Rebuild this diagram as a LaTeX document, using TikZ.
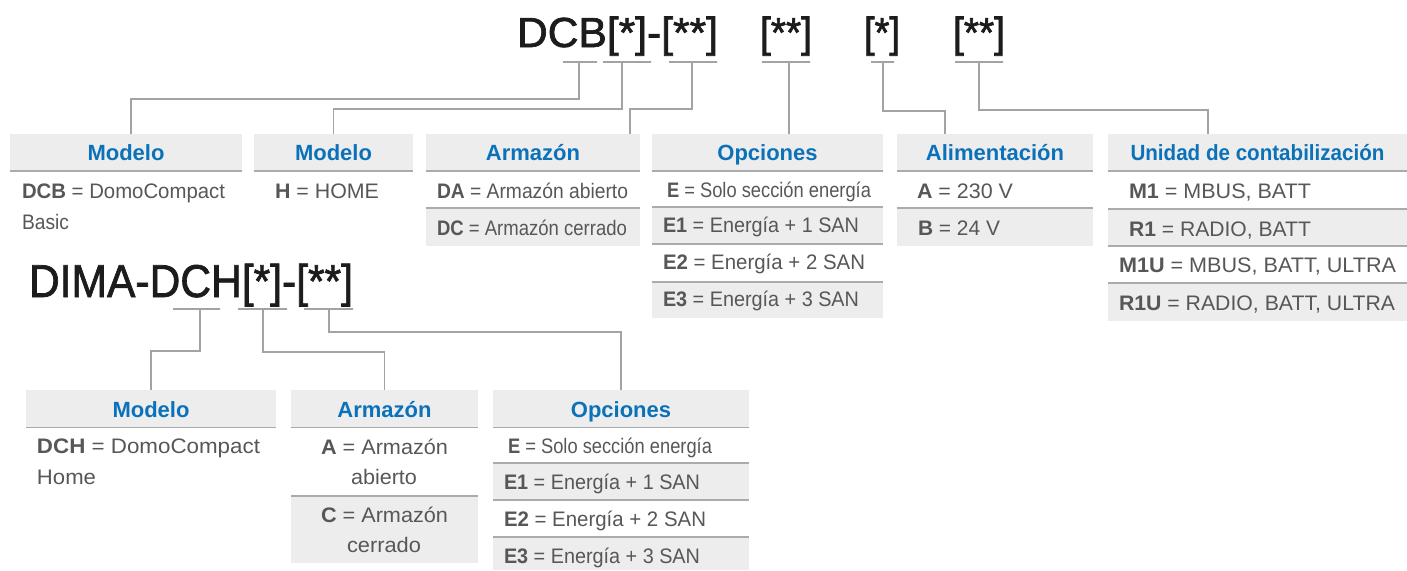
\documentclass[tikz,border=0pt]{standalone}
\usepackage{fontspec}
\setmainfont{Liberation Sans}
\newfontfamily\ttlfont[FakeBold=1.6]{Liberation Sans}
\usepackage{graphicx}
\definecolor{hgray}{HTML}{EDEDED}
\definecolor{sepc}{HTML}{ABABAB}
\definecolor{connc}{HTML}{A3A3A3}
\definecolor{txtc}{HTML}{575757}
\definecolor{hblue}{HTML}{0B72BA}
\definecolor{titlec}{HTML}{1C1C1C}
\newcommand\fitto[2]{\resizebox{#1pt}{\height}{#2}}
\begin{document}
\begin{tikzpicture}[x=1pt,y=-1pt,
 hdr/.style={fill=hgray, draw=none, anchor=north west, inner sep=0pt, outer sep=0pt,
   text height=27pt, text depth=10.5pt, font=\fontsize{22}{26}\selectfont\bfseries, text=hblue},
 rowbox/.style={anchor=north west, inner sep=0pt, outer sep=0pt, draw=none},
 rowg/.style={rowbox, fill=hgray},
 sepline/.style={draw=sepc, line width=1.2pt},
 conn/.style={draw=connc, line width=1.1pt},
 uline/.style={draw=connc, line width=1.1pt, inner sep=0pt, outer sep=0pt, minimum height=0pt},
 txt/.style={anchor=base west, inner sep=0pt, outer sep=0pt, text=txtc, font=\fontsize{21}{25}\selectfont},
 txtc/.style={txt, anchor=base},
 ttl/.style={anchor=base west, inner sep=0pt, outer sep=0pt, text=titlec}
]
\useasboundingbox (0,0) rectangle (1407,570);

% ---------- titles ----------
\node[ttl, font=\ttlfont\fontsize{42}{46}\selectfont] (T1) at (517,47) {\fitto{201}{DCB[*]-[**]}};
\node[ttl, font=\ttlfont\fontsize{42}{46}\selectfont] (T2) at (760,47) {\fitto{52}{[**]}};
\node[ttl, font=\ttlfont\fontsize{42}{46}\selectfont] (T3) at (864,47) {\fitto{36}{[*]}};
\node[ttl, font=\ttlfont\fontsize{42}{46}\selectfont] (T4) at (953,47) {\fitto{52}{[**]}};
\node[ttl, font=\ttlfont\fontsize{46}{50}\selectfont] (T5) at (29,297) {\fitto{324}{DIMA-DCH[*]-[**]}};

% ---------- underlines ----------
\node[uline, minimum width=34] (u1) at (580,62) {};
\node[uline, minimum width=48] (u2) at (627,62) {};
\node[uline, minimum width=48] (u3) at (693,62) {};
\node[uline, minimum width=48] (u4) at (786,62) {};
\node[uline, minimum width=23] (u5) at (882.5,62) {};
\node[uline, minimum width=48] (u6) at (979,62) {};
\node[uline, minimum width=47] (u7) at (196.5,309) {};
\node[uline, minimum width=49] (u8) at (262.5,309) {};
\node[uline, minimum width=49] (u9) at (328.5,309) {};

% ---------- top headers ----------
\node[hdr, minimum width=232] (h1) at (10,133.5) {Modelo};
\node[hdr, minimum width=159] (h2) at (254,133.5) {Modelo};
\node[hdr, minimum width=214] (h3) at (426,133.5) {Armazón};
\node[hdr, minimum width=231] (h4) at (652,133.5) {Opciones};
\node[hdr, minimum width=196] (h5) at (897,133.5) {Alimentación};
\node[hdr, minimum width=299] (h6) at (1108,133.5) {\fitto{254}{Unidad de contabilización}};

% ---------- bottom headers ----------
\node[hdr, minimum width=250] (h7) at (26,390) {Modelo};
\node[hdr, minimum width=187] (h8) at (291,390) {Armazón};
\node[hdr, minimum width=256] (h9) at (493,390) {Opciones};

% ---------- rows ----------
\node[rowbox, minimum width=214, minimum height=37] (r3a) at (426,171) {};
\node[rowg,   minimum width=214, minimum height=38] (r3b) at (426,208) {};
\node[rowbox, minimum width=231, minimum height=36] (r4a) at (652,171) {};
\node[rowg,   minimum width=231, minimum height=37] (r4b) at (652,207) {};
\node[rowbox, minimum width=231, minimum height=38] (r4c) at (652,244) {};
\node[rowg,   minimum width=231, minimum height=36] (r4d) at (652,282) {};
\node[rowbox, minimum width=196, minimum height=37] (r5a) at (897,171) {};
\node[rowg,   minimum width=196, minimum height=38] (r5b) at (897,208) {};
\node[rowbox, minimum width=299, minimum height=38] (r6a) at (1108,171) {};
\node[rowg,   minimum width=299, minimum height=37] (r6b) at (1108,209) {};
\node[rowbox, minimum width=299, minimum height=37] (r6c) at (1108,246) {};
\node[rowg,   minimum width=299, minimum height=38] (r6d) at (1108,283) {};
\node[rowbox, minimum width=187, minimum height=69] (r8a) at (291,427) {};
\node[rowg,   minimum width=187, minimum height=67] (r8b) at (291,496) {};
\node[rowbox, minimum width=256, minimum height=36] (r9a) at (493,427) {};
\node[rowg,   minimum width=256, minimum height=37] (r9b) at (493,463) {};
\node[rowbox, minimum width=256, minimum height=37] (r9c) at (493,500) {};
\node[rowg,   minimum width=256, minimum height=33] (r9d) at (493,537) {};

% ---------- separator rules ----------
\foreach \n in {h1,h2,h3,h4,h5,h6,h7,h8,h9,r3a,r4a,r4b,r4c,r5a,r6a,r6b,r6c,r8a,r9a,r9b,r9c}
  \draw[sepline] (\n.south west) -- (\n.south east);

% ---------- texts ----------
\node[txt] (t1a) at (22,198) {\fitto{203}{\textbf{DCB} = DomoCompact}};
\node[txt] (t1b) at (22,229) {\fitto{47}{Basic}};
\node[txt] (t2a) at (275,198) {\fitto{104}{\textbf{H} = HOME}};
\node[txt] (t3a) at (437,198) {\fitto{191}{\textbf{DA} = Armazón abierto}};
\node[txt] (t3b) at (437,235) {\fitto{190}{\textbf{DC} = Armazón cerrado}};
\node[txt] (t4a) at (667,197) {\fitto{204}{\textbf{E} = Solo sección energía}};
\node[txt] (t4b) at (663,232) {\fitto{196}{\textbf{E1} = Energía + 1 SAN}};
\node[txt] (t4c) at (663,269) {\fitto{202}{\textbf{E2} = Energía + 2 SAN}};
\node[txt] (t4d) at (663,306) {\fitto{196}{\textbf{E3} = Energía + 3 SAN}};
\node[txt] (t5a) at (917,198) {\fitto{96}{\textbf{A} = 230 V}};
\node[txt] (t5b) at (918,235) {\fitto{82}{\textbf{B} = 24 V}};
\node[txt] (t6a) at (1129,198) {\fitto{182}{\textbf{M1} = MBUS, BATT}};
\node[txt] (t6b) at (1129,236) {\fitto{182}{\textbf{R1} = RADIO, BATT}};
\node[txt] (t6c) at (1119,272) {\fitto{277}{\textbf{M1U} = MBUS, BATT, ULTRA}};
\node[txt] (t6d) at (1119,310) {\fitto{276}{\textbf{R1U} = RADIO, BATT, ULTRA}};
\node[txt] (t7a) at (37,453) {\fitto{223}{\textbf{DCH} = DomoCompact}};
\node[txt] (t7b) at (37,484) {\fitto{59}{Home}};
\node[txtc] (t8a) at (384.5,454) {\fitto{127}{\textbf{A} = Armazón}};
\node[txtc] (t8b) at (384,484) {\fitto{66}{abierto}};
\node[txtc] (t8c) at (384.5,522) {\fitto{127}{\textbf{C} = Armazón}};
\node[txtc] (t8d) at (384,552) {\fitto{74}{cerrado}};
\node[txt] (t9a) at (508,453) {\fitto{204}{\textbf{E} = Solo sección energía}};
\node[txt] (t9b) at (504,489) {\fitto{196}{\textbf{E1} = Energía + 1 SAN}};
\node[txt] (t9c) at (504,526) {\fitto{202}{\textbf{E2} = Energía + 2 SAN}};
\node[txt] (t9d) at (504,563) {\fitto{196}{\textbf{E3} = Energía + 3 SAN}};

% ---------- connectors ----------
\coordinate (d1) at ([xshift=-1]u1.center);
\coordinate (d2) at ([xshift=-5]u2.center);
\coordinate (d3) at ([xshift=-1]u3.center);
\coordinate (d4) at ([xshift=3]u4.center);
\coordinate (d5) at ([xshift=0.5]u5.center);
\coordinate (d6) at (u6.center);
\coordinate (d7) at ([xshift=3.5]u7.center);
\coordinate (d8) at ([xshift=0.5]u8.center);
\coordinate (d9) at ([xshift=0.5]u9.center);

\draw[conn] (d1) -- ++(0,37) -| ([xshift=5]h1.north);
\draw[conn] (d2) -- ++(0,47) -| (h2.north);
\draw[conn] (d3) -- ++(0,47) -| ([xshift=97]h3.north);
\draw[conn] (d4) -- (d4 |- h4.north);
\draw[conn] (d5) -- ++(0,49) -| ([xshift=-50]h5.north);
\draw[conn] (d6) -- ++(0,48) -| ([xshift=-49.5]h6.north);
\draw[conn] (d7) -- ++(0,42) -| (h7.north);
\draw[conn] (d8) -- ++(0,43) -| (h8.north);
\draw[conn] (d9) -- ++(0,23) -| (h9.north);
\end{tikzpicture}
\end{document}
